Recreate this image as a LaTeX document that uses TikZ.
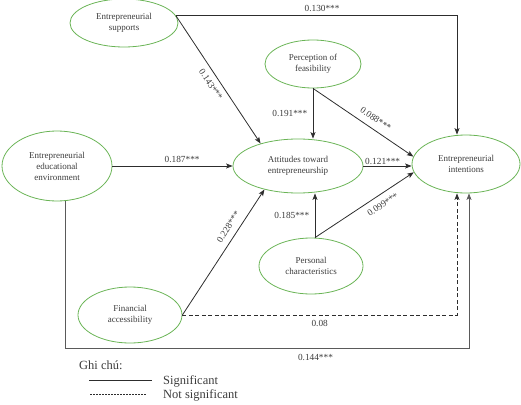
\documentclass[tikz,border=0pt]{standalone}
\usepackage{fontspec}
\setmainfont{Liberation Serif}
\usepackage{xcolor}
\usetikzlibrary{shapes.geometric,arrows.meta}
\definecolor{ellgreen}{RGB}{106,180,86}
\definecolor{linegray}{RGB}{45,45,45}
\definecolor{textgray}{RGB}{60,60,60}

\begin{document}
\begin{tikzpicture}[x=1pt,y=-1pt,
  construct/.style={ellipse, draw=ellgreen, line width=0.8pt, align=center, inner sep=0pt, text=textgray, font=\fontsize{9}{11}\selectfont},
  effect/.style={draw=linegray, line width=0.8pt, -{Stealth[length=6.5pt,width=5pt,inset=1.5pt]}},
  nsig/.style={dash pattern=on 4pt off 2.5pt},
  coef/.style={font=\fontsize{9.3}{11}\selectfont, text=textgray},
  legend/.style={font=\fontsize{12.5}{15}\selectfont, text=textgray, inner sep=0pt}]
  \useasboundingbox (0,0) rectangle (521,404);

  % constructs
  \node (sup) [construct, minimum width=108pt, minimum height=48pt] at (124,23) {Entrepreneurial\\supports};
  \node (edu) [construct, minimum width=110pt, minimum height=70pt] at (57,166) {Entrepreneurial\\educational\\environment};
  \node (feas) [construct, minimum width=96pt, minimum height=48pt] at (313,64) {Perception of\\feasibility};
  \node (ate) [construct, minimum width=130pt, minimum height=54pt] at (298,166) {Attitudes toward\\entrepreneurship};
  \node (int) [construct, minimum width=108pt, minimum height=58pt] at (466,164) {Entrepreneurial\\intentions};
  \node (pers) [construct, minimum width=104pt, minimum height=56pt] at (311,266) {Personal\\characteristics};
  \node (fin) [construct, minimum width=104pt, minimum height=56pt] at (130,315) {Financial\\accessibility};

  % paths
  \draw[effect] (sup.8) -- node[coef, sloped, below=2pt, pos=0.5] {0.143***} (ate.149);
  \draw[effect] (sup.8) -| node[coef, above, pos=0.26] {0.130***} ([xshift=-9pt]int.north);
  \draw[effect] (edu.east) -- node[coef, above, pos=0.58] {0.187***} (ate.west);
  \draw[effect] (feas.south) -- node[coef, left=2pt] {0.191***} (feas.south |- ate.north);
  \draw[effect] (feas.south) -- node[coef, sloped, above=3pt, pos=0.57] {0.088***} (int.172);
  \draw[effect] (ate.east) -- node[coef, above, pos=0.4, inner sep=1pt] {0.121***} (ate.east -| int.west);
  \draw[effect] ([xshift=4pt]pers.north) -- node[coef, left=2pt] {0.185***} ([xshift=4pt]pers.north |- ate.south);
  \draw[effect] ([xshift=4pt]pers.north) -- node[coef, sloped, below=3pt, pos=0.63] {0.099***} (int.189);
  \draw[effect] (fin.east) -- node[coef, sloped, above=3pt, pos=0.66] {0.228***} (ate.215);
  \draw[effect, nsig] (fin.east) -| node[coef, below=2pt, pos=0.25] {0.08} ([xshift=-9pt]int.south);
  \coordinate (base) at (0,348);
  \draw[effect, draw={rgb,255:red,90;green,90;blue,90}] ([xshift=8pt]edu.south) -- ([xshift=8pt]edu.south |- base)
    -| node[coef, below=3pt, pos=0.31] {0.144***} ([xshift=3pt]int.south);

  % legend
  \node (note) [legend, anchor=base west] at (79,369) {Ghi chú:};
  \coordinate (sigA) at (89,380);
  \coordinate (sigB) at (152,380);
  \draw[linegray, line width=0.6pt] (sigA) -- (sigB);
  \node (sig) [legend, anchor=base west] at (163,384) {Significant};
  \coordinate (nsA) at (90,394);
  \coordinate (nsB) at (147,394);
  \draw[linegray, line width=0.5pt, dash pattern=on 1.5pt off 1.5pt] (nsA) -- (nsB);
  \node (nsg) [legend, anchor=base west] at (163,398) {Not significant};
\end{tikzpicture}
\end{document}
